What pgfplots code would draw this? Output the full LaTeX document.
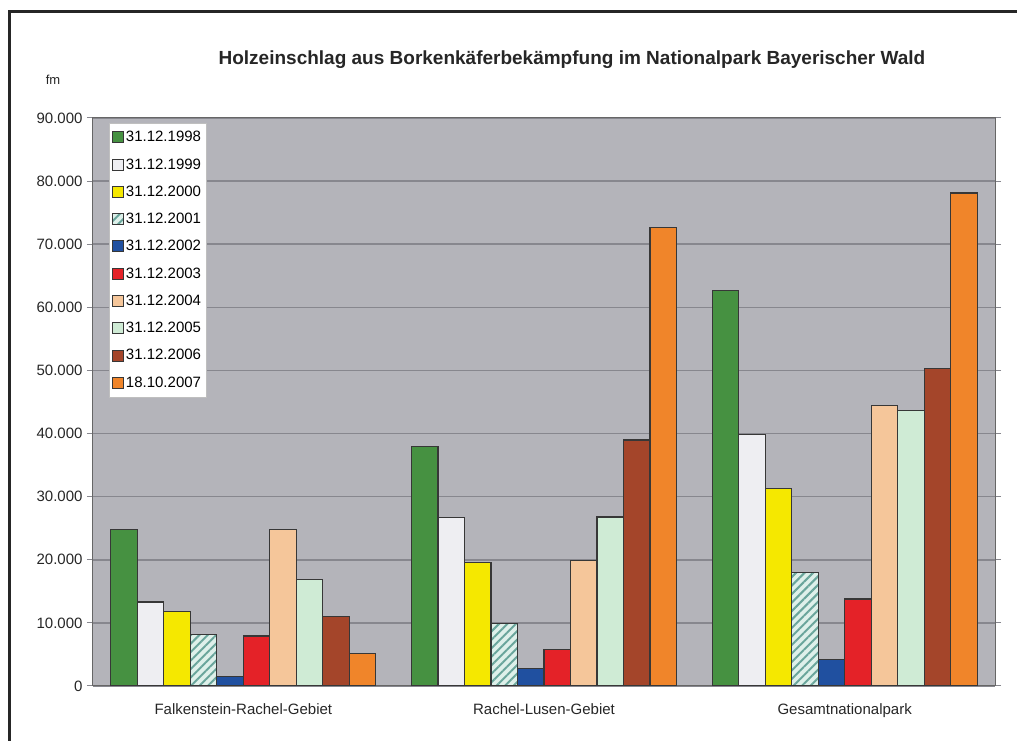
\documentclass[border=0pt]{standalone}
\usepackage{pgfplots}
\pgfplotsset{compat=1.18}
\usepackage{fontspec}
\setmainfont{Liberation Sans}
\usetikzlibrary{patterns.meta}

\definecolor{bg}{RGB}{180,180,186}
\definecolor{gridc}{RGB}{135,135,142}
\definecolor{edge}{RGB}{55,55,55}
\definecolor{c98}{RGB}{70,145,65}
\definecolor{c99}{RGB}{238,238,242}
\definecolor{c00}{RGB}{245,232,0}
\definecolor{c01}{RGB}{222,240,234}
\definecolor{c01l}{RGB}{105,165,155}
\definecolor{c02}{RGB}{32,80,160}
\definecolor{c03}{RGB}{228,34,40}
\definecolor{c04}{RGB}{245,198,154}
\definecolor{c05}{RGB}{207,235,213}
\definecolor{c06}{RGB}{164,69,42}
\definecolor{c07}{RGB}{240,133,42}

\begin{document}
\begin{tikzpicture}
  % image box, 1 px = 1 pt, origin at the lower left of the plot area
  \useasboundingbox (-93pt,-55pt) rectangle (924pt,686pt);
  \draw[line width=3pt, black!85] (-83pt,-60pt) -- (-83pt,674pt) -- (930pt,674pt);

  \begin{axis}[
    scale only axis,
    width=902pt,
    height=568pt,
    ybar=0pt,
    bar width=26.5pt,
    xmin=-0.5, xmax=2.5,
    ymin=0, ymax=90000,
    xtick=data,
    xticklabels={Falkenstein-Rachel-Gebiet, Rachel-Lusen-Gebiet, Gesamtnationalpark},
    x tick style={draw=none},
    ytick={0,10000,...,90000},
    scaled y ticks=false,
    /pgf/number format/use comma,
    /pgf/number format/1000 sep={.},
    /pgf/number format/assume math mode=true,
    tick align=outside,
    major tick length=6pt,
    y tick style={gridc, line width=1pt},
    ymajorgrids=true,
    grid style={gridc, line width=1.5pt},
    axis line style={gray!80!black, line width=1pt},
    axis background/.style={fill=bg},
    ticklabel style={font=\fontsize{15}{18}\selectfont, black!85},
    xticklabel style={yshift=-8pt},
    yticklabel style={xshift=-1pt},
    every axis plot/.append style={draw=edge, line width=1.3pt},
    legend image code/.code={\draw[#1, line width=0.8pt] (0pt,-5.5pt) rectangle (11pt,5.5pt);},
    legend style={at={(axis description cs:0.0177,0.991)}, anchor=north west,
      fill=white, draw=gray!50, font=\fontsize{15}{18}\selectfont,
      row sep=11.3pt, inner xsep=3pt, inner ysep=6pt},
    legend cell align=left,
  ]
    \addplot[fill=c98] coordinates {(0,24800) (1,38000) (2,62700)};
    \addplot[fill=c99] coordinates {(0,13300) (1,26700) (2,39800)};
    \addplot[fill=c00] coordinates {(0,11800) (1,19600) (2,31300)};
    \addplot[fill=c01, postaction={pattern={Lines[angle=45,distance=6pt,line width=2pt]}, pattern color=c01l}] coordinates {(0,8200) (1,9900) (2,18000)};
    \addplot[fill=c02] coordinates {(0,1500) (1,2800) (2,4200)};
    \addplot[fill=c03] coordinates {(0,7900) (1,5800) (2,13800)};
    \addplot[fill=c04] coordinates {(0,24800) (1,19900) (2,44500)};
    \addplot[fill=c05] coordinates {(0,16900) (1,26800) (2,43700)};
    \addplot[fill=c06] coordinates {(0,11000) (1,39000) (2,50300)};
    \addplot[fill=c07] coordinates {(0,5200) (1,72700) (2,78100)};
    \legend{31.12.1998, 31.12.1999, 31.12.2000, 31.12.2001, 31.12.2002,
            31.12.2003, 31.12.2004, 31.12.2005, 31.12.2006, 18.10.2007}
  \end{axis}

  \node[font=\bfseries\fontsize{19}{22}\selectfont, black!85] at (479pt,626pt)
    {Holzeinschlag aus Borkenkäferbekämpfung im Nationalpark Bayerischer Wald};
  \node[font=\fontsize{13}{15}\selectfont, black!85] at (-40pt,606pt) {fm};
\end{tikzpicture}
\end{document}
